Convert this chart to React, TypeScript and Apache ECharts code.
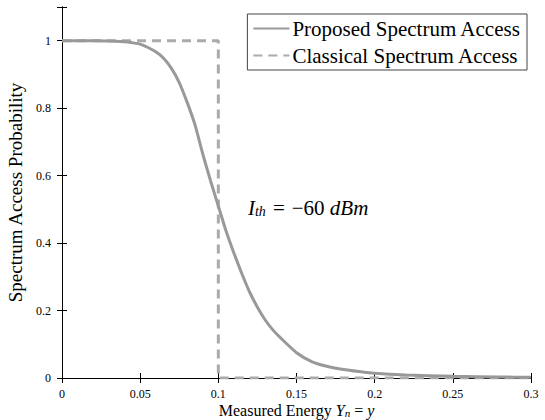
import React, { useEffect, useRef } from "react";
import * as echarts from "echarts";

const proposedX = [0, 0.02, 0.04, 0.045, 0.05, 0.055, 0.06, 0.065, 0.07, 0.075, 0.08, 0.085, 0.09, 0.095, 0.1, 0.105, 0.11, 0.115, 0.12, 0.125, 0.13, 0.135, 0.14, 0.15, 0.16, 0.17, 0.18, 0.19, 0.2, 0.22, 0.25, 0.28, 0.3];
const proposedY = [1, 1, 0.997, 0.994, 0.99, 0.98, 0.967, 0.948, 0.918, 0.876, 0.818, 0.752, 0.665, 0.585, 0.51, 0.435, 0.37, 0.31, 0.255, 0.21, 0.172, 0.142, 0.118, 0.075, 0.048, 0.034, 0.025, 0.019, 0.014, 0.009, 0.005, 0.003, 0.002];
const classicalX = [0, 0.1, 0.1, 0.3];
const classicalY = [1, 1, 0, 0];
const seriesNames = ["Proposed Spectrum Access", "Classical Spectrum Access"];
const xTicks = { min: 0, max: 0.3, interval: 0.05 };
const yTicks = { min: 0, max: 1.1, interval: 0.2 };

const FONT = "Liberation Serif, DejaVu Serif, serif";

export default function App() {
  const ref = useRef<HTMLDivElement>(null);
  useEffect(() => {
    if (!ref.current) return;
    const chart = echarts.init(ref.current, undefined, { renderer: "svg" });
    const axisCommon = {
      axisLine: { show: true, lineStyle: { color: "#000", width: 1 } },
      axisTick: { show: true, inside: true, length: 5, lineStyle: { color: "#000" } },
      splitLine: { show: false },
    };
    chart.setOption({
      animation: false,
      backgroundColor: "#fff",
      textStyle: { fontFamily: FONT },
      grid: { left: 62, right: 14, top: 7, bottom: 42, containLabel: false, outerBoundsMode: "none" },
      legend: {
        orient: "vertical",
        right: 18,
        top: 14,
        itemWidth: 36,
        itemHeight: 14,
        itemGap: 6,
        padding: [4, 6, 4, 5],
        backgroundColor: "#fff",
        borderColor: "#444",
        borderWidth: 1,
        borderRadius: 0,
        itemStyle: { opacity: 0 },
        textStyle: { fontFamily: FONT, fontSize: 21, color: "#000", padding: [0, 0, 0, -2] },
        data: seriesNames,
      },
      xAxis: [
        {
          type: "value",
          ...xTicks,
          ...axisCommon,
          axisLabel: { fontFamily: FONT, fontSize: 12, color: "#000", margin: 10 },
          name: "Measured Energy {i|Y}{sub|n} = {i|y}",
          nameLocation: "middle",
          nameGap: 23,
          nameMoveOverlap: false,
          nameTextStyle: {
            fontFamily: FONT,
            fontSize: 16,
            lineHeight: 18,
            color: "#000",
            rich: {
              i: { fontFamily: FONT, fontSize: 16, lineHeight: 18, fontStyle: "italic", color: "#000" },
              sub: { fontFamily: FONT, fontSize: 11, lineHeight: 18, fontStyle: "italic", color: "#000", padding: [5, 0, 0, 0] },
            },
          },
        },
        {
          type: "value",
          position: "top",
          ...xTicks,
          ...axisCommon,
          axisLabel: { show: false },
        },
      ],
      yAxis: [
        {
          type: "value",
          ...yTicks,
          ...axisCommon,
          axisLabel: {
            fontFamily: FONT,
            fontSize: 12,
            color: "#000",
            margin: 11,
            formatter: (v: number) => (v > 1.001 ? "" : String(Math.round(v * 10) / 10)),
          },
          name: "Spectrum Access Probability",
          nameLocation: "middle",
          nameGap: 31,
          nameTextStyle: { fontFamily: FONT, fontSize: 19, color: "#000" },
        },
        {
          type: "value",
          position: "right",
          ...yTicks,
          ...axisCommon,
          axisLabel: { show: false },
        },
      ],
      graphic: [
        {
          type: "text",
          left: 248,
          top: 197,
          style: {
            text: "{i|I}{sub|th}{op|=}−60 {i|dBm}",
            fontFamily: FONT,
            fontSize: 21,
            fill: "#000",
            rich: {
              i: { fontFamily: FONT, fontSize: 21, fontStyle: "italic", fill: "#000" },
              sub: { fontFamily: FONT, fontSize: 14, fontStyle: "italic", fill: "#000", padding: [8, 0, 0, 0] },
              op: { fontFamily: FONT, fontSize: 21, fill: "#000", padding: [0, 7, 0, 7] },
            },
          },
        },
      ],
      series: [
        {
          name: seriesNames[1],
          type: "line",
          data: classicalX.map((x, i) => [x, classicalY[i]]),
          symbol: "none",
          lineStyle: { color: "#aaaaaa", width: 3, type: [9, 6] },
          itemStyle: { color: "#aaaaaa" },
          z: 2,
        },
        {
          name: seriesNames[0],
          type: "line",
          data: proposedX.map((x, i) => [x, proposedY[i]]),
          symbol: "none",
          smooth: 0.2,
          lineStyle: { color: "#999999", width: 3 },
          itemStyle: { color: "#999999" },
          z: 3,
        },
      ],
    });
    return () => chart.dispose();
  }, []);
  return <div ref={ref} style={{ width: 545, height: 420, position: "absolute", left: 0, top: 0 }} />;
}
